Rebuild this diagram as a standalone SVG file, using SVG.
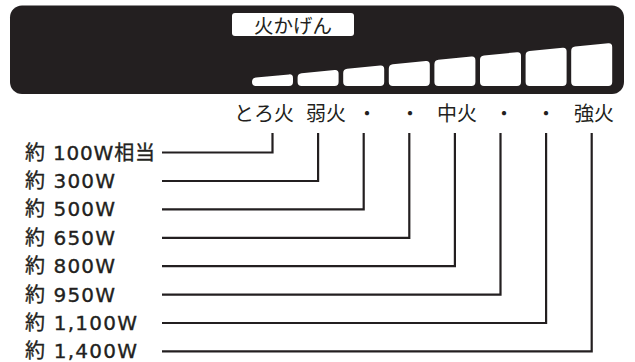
<svg xmlns="http://www.w3.org/2000/svg" width="635" height="362" viewBox="0 0 635 362">
<style>
.t{font-family:"Noto Sans CJK JP","Noto Sans CJK SC",sans-serif;fill:#231f20}
.row{font-family:"DejaVu Sans","Noto Sans CJK JP",sans-serif;font-size:20px;fill:#231f20;stroke:#231f20;stroke-width:0.35}
.top{font-size:20px;text-anchor:middle}
.bar{fill:#ffffff}
.conn{fill:none;stroke:#231f20;stroke-width:2.2;stroke-linejoin:miter}
</style>
<rect width="635" height="362" fill="#ffffff"/>
<g id="panel">
<rect x="10" y="5.5" width="614" height="88.5" rx="12" fill="#231f20"/>
<rect x="232" y="13" width="122" height="23" rx="3" fill="#ffffff"/>
<text class="t" x="293" y="32.5" font-size="19.5" text-anchor="middle">火かげん</text>
</g>
<g id="bars">
<path class="bar" d="M256,86 H289 Q293,86 293,82 V78 Q293,74 289,74.4 L256,77.6 Q252,78 252,82 Q252,86 256,86Z"/>
<path class="bar" d="M301.6,86 H334.6 Q338.6,86 338.6,82 V73.6 Q338.6,69.6 334.6,70 L301.6,73.2 Q297.6,73.6 297.6,77.6 V82 Q297.6,86 301.6,86Z"/>
<path class="bar" d="M347.2,86 H380.2 Q384.2,86 384.2,82 V69.1 Q384.2,65.1 380.2,65.5 L347.2,68.7 Q343.2,69.1 343.2,73.1 V82 Q343.2,86 347.2,86Z"/>
<path class="bar" d="M392.8,86 H425.8 Q429.8,86 429.8,82 V64.7 Q429.8,60.7 425.8,61.1 L392.8,64.3 Q388.8,64.7 388.8,68.7 V82 Q388.8,86 392.8,86Z"/>
<path class="bar" d="M438.4,86 H471.4 Q475.4,86 475.4,82 V60.2 Q475.4,56.2 471.4,56.6 L438.4,59.8 Q434.4,60.2 434.4,64.2 V82 Q434.4,86 438.4,86Z"/>
<path class="bar" d="M484,86 H517 Q521,86 521,82 V55.8 Q521,51.8 517,52.2 L484,55.4 Q480,55.8 480,59.8 V82 Q480,86 484,86Z"/>
<path class="bar" d="M529.6,86 H562.6 Q566.6,86 566.6,82 V51.3 Q566.6,47.3 562.6,47.7 L529.6,50.9 Q525.6,51.3 525.6,55.3 V82 Q525.6,86 529.6,86Z"/>
<path class="bar" d="M575.2,86 H608.2 Q612.2,86 612.2,82 V46.9 Q612.2,42.9 608.2,43.3 L575.2,46.5 Q571.2,46.9 571.2,50.9 V82 Q571.2,86 575.2,86Z"/>
</g>
<g id="level-labels">
<text class="t top" x="264" y="121">とろ火</text>
<text class="t top" x="326" y="121">弱火</text>
<text class="t top" x="367" y="121">・</text>
<text class="t top" x="410" y="121">・</text>
<text class="t top" x="457" y="121">中火</text>
<text class="t top" x="504" y="121">・</text>
<text class="t top" x="546" y="121">・</text>
<text class="t top" x="594" y="121">強火</text>
</g>
<g id="power-labels">
<text class="row" x="25" y="159.5" textLength="130" lengthAdjust="spacing">約 100W相当</text>
<text class="row" x="25" y="188" textLength="90" lengthAdjust="spacing">約 300W</text>
<text class="row" x="25" y="216.4" textLength="90" lengthAdjust="spacing">約 500W</text>
<text class="row" x="25" y="244.8" textLength="90" lengthAdjust="spacing">約 650W</text>
<text class="row" x="25" y="273.2" textLength="90" lengthAdjust="spacing">約 800W</text>
<text class="row" x="25" y="301.6" textLength="90" lengthAdjust="spacing">約 950W</text>
<text class="row" x="25" y="330" textLength="112" lengthAdjust="spacing">約 1,100W</text>
<text class="row" x="25" y="358.4" textLength="112" lengthAdjust="spacing">約 1,400W</text>
</g>
<g id="connectors">
<path class="conn" d="M162,152.5 H272.5 V133"/>
<path class="conn" d="M162,181 H318.1 V133"/>
<path class="conn" d="M162,209.4 H363.7 V133"/>
<path class="conn" d="M162,237.8 H409.3 V133"/>
<path class="conn" d="M162,266.2 H454.9 V133"/>
<path class="conn" d="M162,294.6 H500.5 V133"/>
<path class="conn" d="M162,323 H546.1 V133"/>
<path class="conn" d="M162,351.4 H591.7 V133"/>
</g>
</svg>
